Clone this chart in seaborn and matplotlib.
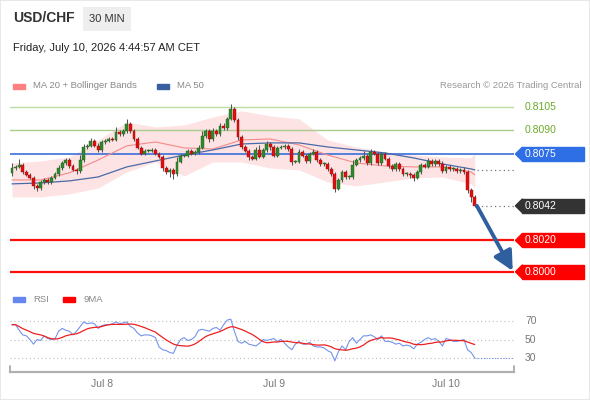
import numpy as np
import pandas as pd
import matplotlib
matplotlib.use("Agg")
import matplotlib.pyplot as plt
import seaborn as sns
from matplotlib.patches import Rectangle, Polygon

sns.set_style("white")
plt.rcParams["font.family"] = ["Liberation Sans", "DejaVu Sans"]

# 30 min closes, Jul 7 11:30 -> Jul 10 04:30
closes = [
    .80660, .80668, .80681, .80636, .80617, .80598, .80547, .80534, .80572, .80585,
    .80572, .80598, .80623, .80661, .80693, .80712, .80674, .80649, .80642, .80712,
    .80795, .80802, .80834, .80802, .80776, .80827, .80834, .80846, .80840, .80891,
    .80878, .80897, .80942, .80897, .80846, .80789, .80751, .80770, .80770, .80776,
    .80751, .80732, .80661, .80636, .80649, .80623, .80700, .80738, .80738, .80770,
    .80751, .80763, .80789, .80865, .80897, .80846, .80897, .80878, .80929, .80916,
    .80974, .81037, .80967, .80859, .80795, .80770, .80732, .80719, .80776, .80732,
    .80776, .80814, .80795, .80738, .80789, .80795, .80802, .80782, .80700, .80700,
    .80763, .80738, .80706, .80751, .80763, .80712, .80687, .80687, .80655, .80623,
    .80528, .80585, .80636, .80604, .80604, .80681, .80712, .80725, .80738, .80693,
    .80763, .80751, .80693, .80751, .80719, .80674, .80655, .80687, .80655, .80623,
    .80623, .80617, .80598, .80636, .80681, .80668, .80706, .80687, .80706, .80687,
    .80642, .80668, .80655, .80655, .80642, .80649, .80636, .80521, .80477, .80420,
]
first_open = 0.80630
# wick lengths in pips
up_wick = [3, 1, 4, 1, 1, 1, 1, 1, 1, 1, 1, 1, 1, 2, 1, 1, 1, 1, 1, 3,
           2, 1, 2, 1, 2, 1, 1, 1, 1, 3, 1, 1, 3, 1, 1, 1, 1, 1, 1, 1,
           1, 1, 1, 1, 1, 1, 3, 1, 1, 1, 1, 1, 2, 3, 1, 1, 2, 1, 2, 2,
           1, 3, 1, 1, 1, 1, 1, 1, 2, 3, 1, 2, 1, 1, 1, 1, 1, 1, 1, 1,
           2, 1, 1, 1, 2, 1, 1, 1, 1, 1, 1, 1, 1, 1, 1, 3, 1, 1, 3, 1,
           2, 1, 1, 1, 1, 1, 1, 1, 1, 1, 1, 1, 1, 1, 1, 1, 2, 1, 1, 1,
           2, 1, 1, 1, 1, 1, 2, 1, 1, 1]
dn_wick = [2, 1, 1, 1, 1, 1, 2, 2, 1, 1, 1, 1, 1, 1, 1, 1, 1, 1, 2, 1,
           1, 1, 1, 1, 1, 1, 1, 1, 1, 1, 1, 1, 1, 1, 1, 1, 1, 1, 1, 1,
           1, 1, 2, 1, 3, 3, 1, 1, 1, 1, 1, 1, 1, 1, 1, 2, 1, 1, 1, 1,
           1, 1, 1, 2, 1, 1, 2, 1, 1, 1, 1, 1, 2, 1, 1, 1, 1, 1, 2, 1,
           1, 1, 1, 1, 1, 1, 1, 1, 1, 1, 2, 1, 1, 1, 1, 1, 1, 1, 1, 1,
           1, 1, 1, 1, 1, 1, 1, 1, 1, 1, 1, 2, 2, 1, 1, 1, 1, 1, 1, 1,
           1, 1, 1, 1, 1, 1, 1, 2, 3, 1]
rsi = [66, 66, 60, 55, 54, 50, 45, 50, 49, 54, 51, 50, 51, 59, 62, 60, 59, 55, 59, 64,
       69, 67, 68, 67, 62, 65, 66, 66, 67, 69, 67, 68, 69, 64, 62, 57, 54, 55, 55, 54,
       52, 42, 39, 38, 36, 35, 44, 50, 52, 49, 50, 53, 60, 61, 60, 59, 62, 63, 60, 66,
       71, 72, 59, 48, 46, 48, 45, 44, 43, 46, 50, 49, 50, 51, 48, 50, 46, 42, 39, 45,
       48, 45, 45, 47, 43, 42, 42, 41, 38, 36, 27, 37, 43, 39, 48, 52, 46, 50, 54, 54,
       55, 53, 50, 54, 48, 48, 47, 45, 46, 43, 44, 43, 40, 45, 47, 50, 52, 50, 51, 48,
       43, 51, 50, 48, 48, 49, 50, 39, 36, 30]

ma_bars = [0, 8, 16, 24, 32, 40, 48, 56, 64, 72, 80, 88, 96, 104, 112, 120, 128, 129]
ma20 = [.80585, .80585, .80630, .80712, .80802, .80827, .80789, .80782, .80840,
        .80846, .80808, .80744, .80693, .80674, .80668, .80668, .80636, .80617]
ma50 = [.80560, .80566, .80579, .80604, .80668, .80706, .80744, .80776, .80814,
        .80821, .80821, .80795, .80776, .80757, .80725, .80687, .80655, .80649]
bb_upper = [.80693, .80706, .80731, .80840, .80954, .80923, .80935, .80986, .81025,
            .80993, .80974, .80840, .80795, .80763, .80744, .80731, .80725, .80763]
bb_lower = [.80477, .80477, .80496, .80534, .80636, .80700, .80610, .80700, .80700,
            .80661, .80649, .80572, .80547, .80572, .80598, .80604, .80560, .80534]

resist_levels = [0.8105, 0.8090]
pivot = 0.8075
last_price = 0.8042
support_levels = [0.8020, 0.8000]
target = 0.8000

times = pd.date_range("2026-07-07 11:30", periods=len(closes), freq="30min")
df = pd.DataFrame({"bar": np.arange(len(closes)), "close": closes,
                   "up": up_wick, "dn": dn_wick, "rsi": rsi})
df["open"] = [first_open] + closes[:-1]
df["top"] = df[["open", "close"]].max(axis=1)
df["bot"] = df[["open", "close"]].min(axis=1)
df["high"] = df["top"] + df["up"] * 0.0001
df["low"] = df["bot"] - df["dn"] * 0.0001
rising = df["close"] >= df["open"]

fig = plt.figure(figsize=(5.9, 4.0), dpi=100)
ax = fig.add_axes([0.01729, 0.2875, 0.8542, 0.475])
ax2 = fig.add_axes([0.01729, 0.07, 0.8542, 0.155])
xmax = 140
for a in (ax, ax2):
    a.set_xlim(-0.5, xmax)
    for s in a.spines.values():
        s.set_visible(False)
ax.set_ylim(0.79916, 0.81126)
ax.set_xticks([])
ax.set_yticks([])

# bollinger band + moving averages
ax.fill_between(ma_bars, bb_lower, bb_upper, color="#fde3e3", lw=0, zorder=1)
sns.lineplot(x=ma_bars, y=ma20, ax=ax, color="#f48a8a", lw=0.8, zorder=2)
sns.lineplot(x=ma_bars, y=ma50, ax=ax, color="#4a6aa8", lw=0.9, zorder=2)

# horizontal levels
green_txt = "#6aaa2a"
lab_x = 1.0215
tr = ax.get_yaxis_transform()
for lv, c in zip(resist_levels, ["#bcdca4", "#a9cb8e"]):
    ax.axhline(lv, color=c, lw=1.0, zorder=1)
    ax.text(lab_x, lv, f"{lv:.4f}", transform=tr, color=green_txt, fontsize=7.5,
            va="center", ha="left")
ax.axhline(pivot, color="#3a6fdc", lw=1.2, zorder=1)
for lv in support_levels:
    ax.axhline(lv, color="#ff1010", lw=1.6, zorder=1)

ax.plot([df["bar"].iloc[-1] + 0.6, xmax], [ma50[-1], ma50[-1]], ls=(0, (1, 2.5)),
        color="#777777", lw=0.9)
ax.plot([df["bar"].iloc[-1] + 0.6, xmax], [last_price, last_price], ls=(0, (1, 2.5)),
        color="#777777", lw=0.9)

# candles
ax.vlines(df["bar"], df["low"], df["high"], color="#555555", lw=0.75, zorder=3)
heights = (df["top"] - df["bot"]).clip(lower=0.00004)
ax.bar(df["bar"], heights, bottom=df["bot"], width=0.8,
       color=np.where(rising, "#2f8a2a", "#e01010"),
       edgecolor=np.where(rising, "#1f5f1c", "#9a0a0a"), linewidth=0.3, zorder=4)


def tag(y, text, color):
    h = 0.00089
    x0 = 1.0155
    ax.add_patch(Rectangle((x0, y - h / 2), 0.1235, h, transform=tr, color=color,
                           clip_on=False, zorder=5))
    ax.add_patch(Polygon([[x0 + 0.001, y + h / 2], [x0 + 0.001, y - h / 2], [x0 - 0.013, y]],
                         closed=True, transform=tr, color=color, clip_on=False, zorder=5))
    ax.text(lab_x, y, text, transform=tr, color="white", fontsize=7.5, va="center",
            ha="left", zorder=6)


tag(pivot, f"{pivot:.4f}", "#2f6fe6")
tag(last_price, f"{last_price:.4f}", "#333333")
for lv in support_levels:
    tag(lv, f"{lv:.4f}", "#ff0000")

ax.annotate("", xy=(139.6, target + 0.00005), xytext=(df["bar"].iloc[-1] + 0.6, last_price),
            arrowprops=dict(arrowstyle="-|>,head_width=0.45,head_length=0.9",
                            color="#2f5f9f", lw=2.8, shrinkA=0, shrinkB=0,
                            mutation_scale=13), zorder=6)

# RSI panel
ax2.set_ylim(14.9, 81.9)
for lv in [30, 50, 70]:
    ax2.axhline(lv, color="#bdbdbd", lw=0.8, ls=(0, (1, 2.5)))
    ax2.text(lab_x, lv, str(lv), transform=ax2.get_yaxis_transform(), color="#777777",
             fontsize=7.5, va="center", ha="left")
df["rsi_ma"] = df["rsi"].rolling(9, min_periods=1).mean()
sns.lineplot(data=df, x="bar", y="rsi", ax=ax2, color="#7593ec", lw=0.8)
sns.lineplot(data=df, x="bar", y="rsi_ma", ax=ax2, color="#ee2020", lw=0.9)
ax2.plot([df["bar"].iloc[-1], xmax], [rsi[-1], rsi[-1]], ls=(0, (1, 1.5)),
         color="#7593ec", lw=0.8)
ax2.set_ylabel("")
ax2.set_xlabel("")
ax2.set_yticks([])
ax2.spines["bottom"].set_visible(True)
ax2.spines["bottom"].set_color("#b0b0b0")
ax2.spines["bottom"].set_linewidth(1.6)
for xe in (0, 1):
    ax2.plot([xe, xe], [0, 0.09], transform=ax2.transAxes, color="#b0b0b0", lw=1.4,
             clip_on=False)
mid = df["bar"][(times.hour == 0) & (times.minute == 0)]
ax2.set_xticks(mid)
ax2.set_xticklabels([f"Jul {times[i].day}" for i in mid], color="#777777", fontsize=7.5)
ax2.tick_params(axis="x", length=0, pad=5)

# header and legends
fig.text(13 / 590, 1 - 18 / 400, "USD/CHF", fontsize=10, fontweight="bold",
         color="#333333", va="center")
fig.text(107 / 590, 1 - 19 / 400, "30 MIN", fontsize=8, color="#333333", ha="center",
         va="center", bbox=dict(boxstyle="square,pad=0.6", fc="#eeeeee", ec="none"))
fig.text(13 / 590, 1 - 48 / 400, "Friday, July 10, 2026 4:44:57 AM CET", fontsize=8,
         color="#222222", va="center")


def legend_item(x, y, color, text):
    fig.patches.append(Rectangle((x / 590, 1 - (y + 2.5) / 400), 12 / 590, 5 / 400,
                                 transform=fig.transFigure, color=color))
    fig.text((x + 20) / 590, 1 - y / 400, text, fontsize=6.8, color="#888888", va="center")


legend_item(13, 86, "#ff8080", "MA 20 + Bollinger Bands")
legend_item(157, 86, "#3a5f9f", "MA 50")
legend_item(13, 299, "#6688ee", "RSI")
legend_item(63, 299, "#ff0000", "9MA")
fig.text(581 / 590, 1 - 86 / 400, "Research © 2026 Trading Central", fontsize=6.8,
         color="#999999", ha="right", va="center")

fig.patches.append(Rectangle((0, 0), 1, 1, transform=fig.transFigure, fill=False,
                             ec="#e4e4e4", lw=1.2))

fig.savefig("out.png", dpi=100)
